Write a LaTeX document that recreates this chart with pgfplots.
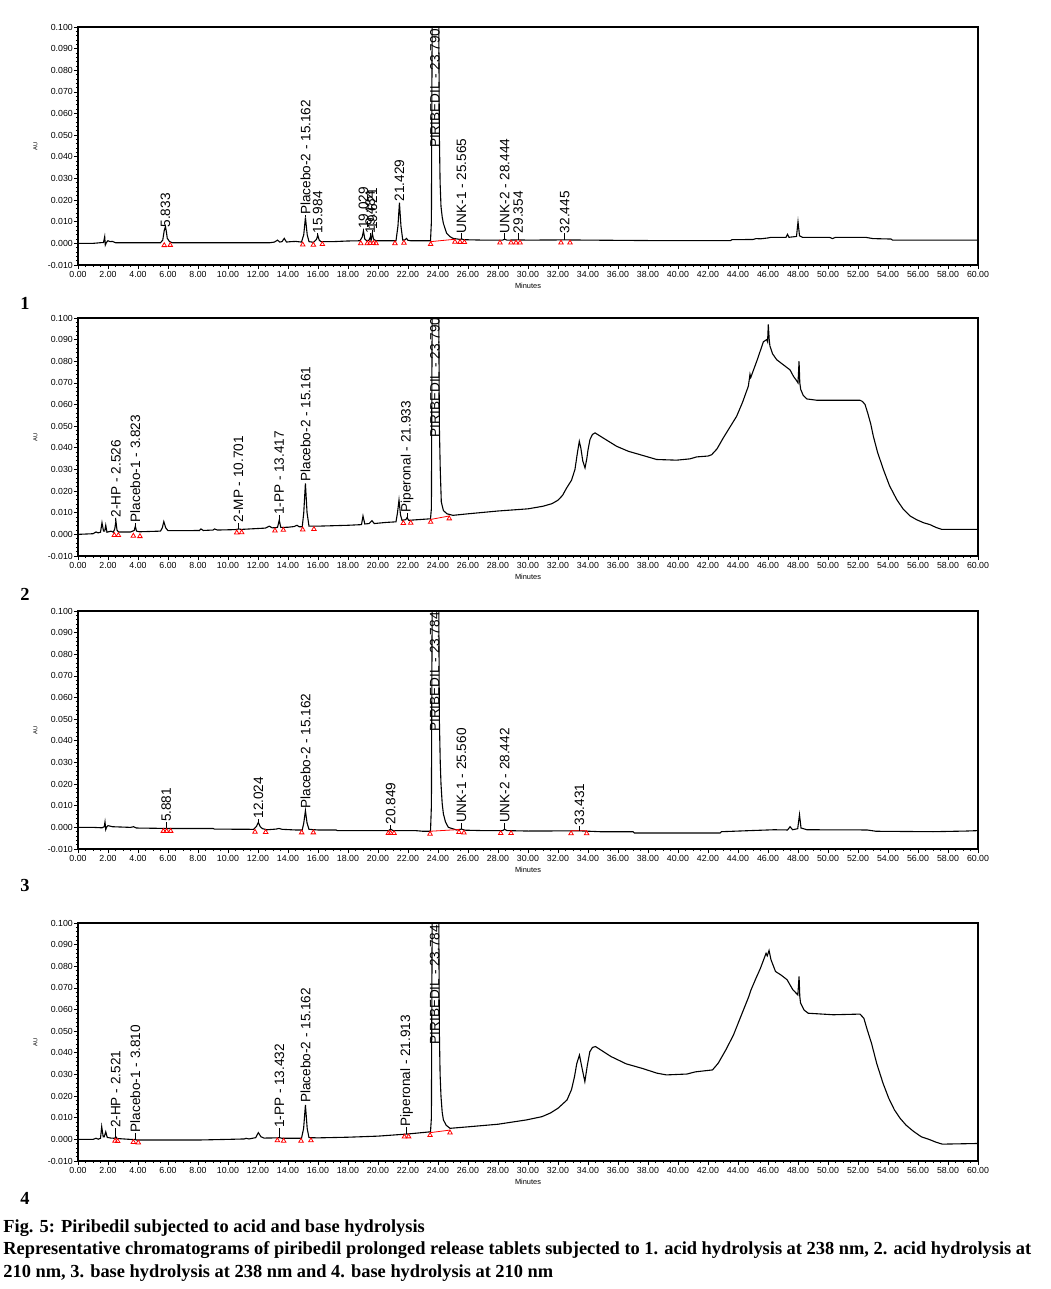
\documentclass[border=0pt]{standalone}
\usepackage{fontspec}
\setmainfont{Liberation Sans}
\newfontfamily\capfont{Liberation Serif}
\usepackage{pgfplots}
\pgfplotsset{compat=1.18}

\newcommand\lblfont{\fontsize{6.8}{7}\selectfont}
\newcommand\capsize{\capfont\bfseries\fontsize{9.2}{11.25}\selectfont}

\pgfplotsset{
  chrom/.style={
    scale only axis, width=450pt, height=119pt, anchor=north west,
    xmin=0, xmax=60, ymin=-0.01, ymax=0.1,
    xtick distance=2, ytick distance=0.01,
    minor x tick num=3, minor y tick num=4,
    scaled y ticks=false, scaled x ticks=false,
    tick align=outside, tick pos=left,
    major tick length=2pt, minor tick length=1.1pt,
    every tick/.style={black, line width=0.4pt},
    axis line style={line width=0.6pt},
    ticklabel style={font=\fontsize{4.4}{5}\selectfont},
    xticklabel style={inner sep=0.8pt},
    yticklabel style={inner sep=0.4pt},
    /pgf/number format/assume math mode=true,
    xticklabel={\pgfmathprintnumber[fixed,fixed zerofill,precision=2]{\tick}},
    yticklabel={\pgfmathprintnumber[fixed,fixed zerofill,precision=3]{\tick}},
    xlabel={Minutes}, ylabel={AU},
    xlabel style={at={(axis description cs:0.5,0)}, anchor=north, yshift=-5.6pt, font=\fontsize{3.7}{4}\selectfont},
    ylabel style={at={(axis description cs:-0.0373,0.5)}, anchor=south, font=\fontsize{2.9}{3}\selectfont},
    unbounded coords=jump,
  },
  trace/.style={black, line width=0.55pt, mark=none},
  base/.style={red, line width=0.4pt, mark=none},
  tri/.style={only marks, red, mark=triangle, mark size=1.3pt,
    mark options={yshift=-1.3pt, line width=0.4pt, solid}},
  lead/.style={black, line width=0.45pt, mark=none},
  lbl/.style={only marks, mark=none, nodes near coords, point meta=explicit symbolic,
    every node near coord/.append style={rotate=90, anchor=west, inner sep=0pt, font=\lblfont, black}},
}

\begin{document}
\begin{tikzpicture}
\useasboundingbox (0,0) rectangle (525pt,-644.5pt);

% ---------- 1: acid hydrolysis, 238 nm
\begin{axis}[chrom, at={(39pt,-13.5pt)}]
\addplot[trace] coordinates {
(0,0)(1.0,0.0)(1.5,0.0003)(1.7,0.0004)(1.78,0.0031)(1.82,-0.0008)(1.9,0.0005)(2.0,0.0012)(2.15,0.0008)(2.3,0.0009)(2.5,0.0003)
(4,0.0003)(5.5,0.0003)(5.65,0.0015)(5.75,0.006)(5.833,0.0077)(5.9,0.005)(5.95,0.0024)(6.1,0.0008)(6.3,0.0003)(8,0.0003)(10,0.0003)
(12.8,0.0003)(13.1,0.0006)(13.3,0.0015)(13.45,0.0006)(13.6,0.0008)(13.75,0.0023)(13.9,0.0006)(14.2,0.0008)(14.5,0.0009)(14.9,0.0006)
(15.05,0.004)(15.162,0.012)(15.28,0.004)(15.4,0.0008)(15.7,0.0005)(15.9,0.0018)(15.984,0.0038)(16.08,0.0015)(16.2,0.0008)(17,0.0008)
(18,0.0011)(18.8,0.0012)(18.95,0.003)(19.029,0.0057)(19.12,0.002)(19.25,0.0012)(19.4,0.0015)(19.48,0.0028)(19.54,0.0014)(19.62,0.0046)
(19.7,0.002)(19.85,0.0012)(21.2,0.0012)(21.33,0.008)(21.429,0.0188)(21.53,0.008)(21.65,0.0015)(21.8,0.0016)(21.9,0.0023)(22.0,0.0014)
(22.2,0.0012)(23.5,0.0012)(23.56,0.01)(23.62,0.12)(23.79,0.25)(24.04,0.12)(24.09,0.05)(24.14,0.028)(24.2,0.017)(24.28,0.0122)
(24.36,0.0092)(24.58,0.0046)(24.8,0.0031)(25.0,0.0023)(25.5,0.0018)(25.565,0.0021)(25.7,0.0017)(27,0.0015)(28.3,0.0015)(28.444,0.0019)
(28.6,0.0015)(29.354,0.0016)(30,0.0015)(32.445,0.0016)(34,0.0015)(36,0.0014)(38,0.0013)(40,0.0013)(43.5,0.0013)(43.6,0.0017)
(45,0.0018)(45.2,0.0022)(45.5,0.0021)(46,0.0025)(46.2,0.0028)(47.2,0.0028)(47.3,0.0042)(47.4,0.0028)(47.9,0.0032)(48.0,0.010)
(48.1,0.0035)(48.3,0.0028)(50.1,0.0028)(50.3,0.0022)(50.5,0.0028)(52.5,0.0028)(53,0.0022)(54.2,0.0020)(54.3,0.0015)(60,0.0015)
};
\addplot[base] coordinates {(23.51,0.0008)(25.13,0.0019)};
\addplot[tri] coordinates {
(5.75,0.0003)(6.15,0.0004)(14.98,0.0006)(15.69,0.0005)(16.29,0.0008)(18.85,0.0012)(19.29,0.0012)(19.47,0.0013)(19.69,0.0013)
(19.87,0.0012)(21.13,0.0012)(21.73,0.0014)(23.51,0.0008)(25.13,0.0019)(25.47,0.0018)(25.76,0.0017)(28.13,0.0015)(28.87,0.0015)
(29.2,0.0015)(29.47,0.0015)(32.2,0.0015)(32.8,0.0015)
};
\addplot[lead] coordinates {
(15.162,0.012)(15.162,0.013)(15.162,nan)(15.984,0.0038)(15.984,0.0046)(15.984,nan)(19.029,0.0057)(19.029,0.0065)(19.029,nan)
(19.484,0.0028)(19.484,0.0046)(19.484,nan)(19.621,0.0046)(19.621,0.006)(19.621,nan)(25.565,0.0018)(25.565,0.0046)(25.565,nan)
(28.444,0.0018)(28.444,0.0046)(28.444,nan)(29.354,0.0016)(29.354,0.0046)(29.354,nan)(32.445,0.0016)(32.445,0.0046)
};
\addplot[lbl] table[col sep=comma, meta=label] {
x,y,label
5.833,0.0072,5.833
15.162,0.013,Placebo-2 - 15.162
15.984,0.0046,15.984
19.029,0.0065,19.029
19.484,0.0046,19.484
19.621,0.0060,19.621
21.429,0.0193,21.429
23.790,0.0439,PIRIBEDIL - 23.790
25.565,0.0046,UNK-1 - 25.565
28.444,0.0046,UNK-2 - 28.444
29.354,0.0046,29.354
32.445,0.0046,32.445
};
\end{axis}

% ---------- 2: acid hydrolysis, 210 nm
\begin{axis}[chrom, at={(39pt,-159pt)}]
\addplot[trace] coordinates {
(0,0)(1.0,0.0003)(1.2,0.0011)(1.35,0.0007)(1.5,0.001)(1.6,0.0054)(1.7,0.0015)(1.78,0.0015)(1.85,0.0042)(1.93,0.001)(2.1,0.0013)
(2.2,0.0015)(2.35,0.001)(2.45,0.0025)(2.526,0.0062)(2.6,0.002)(2.7,0.0011)(3.5,0.0011)(3.75,0.0018)(3.823,0.0038)(3.9,0.0015)
(4.1,0.0012)(5.5,0.0015)(5.62,0.003)(5.72,0.0059)(5.85,0.003)(6.0,0.0017)(7,0.0017)(8.1,0.0018)(8.2,0.0025)(8.35,0.0018)(9.0,0.002)
(9.1,0.0025)(9.3,0.002)(10.5,0.0022)(10.7,0.0025)(10.9,0.0023)(12.5,0.0029)(12.75,0.0038)(12.95,0.003)(13.3,0.0032)(13.417,0.0066)
(13.52,0.0032)(14,0.0033)(14.4,0.0036)(14.6,0.0042)(14.75,0.0035)(14.95,0.0035)(15.05,0.01)(15.161,0.0236)(15.27,0.01)(15.4,0.0038)
(16,0.0038)(17,0.004)(18,0.0042)(18.9,0.0045)(19.0,0.0085)(19.12,0.0048)(19.4,0.005)(19.6,0.0063)(19.75,0.005)(20.5,0.0055)
(21.2,0.0058)(21.3,0.01)(21.4,0.0159)(21.5,0.009)(21.6,0.0065)(21.85,0.0068)(21.933,0.0077)(22.05,0.0065)(23.5,0.0072)(23.56,0.012)
(23.62,0.12)(23.79,0.25)(24.04,0.12)(24.09,0.05)(24.15,0.03)(24.22,0.015)(24.36,0.011)(24.6,0.0095)(25,0.0088)(26,0.0095)(28,0.0108)
(30,0.0118)(31,0.013)(31.6,0.0142)(32,0.0158)(32.3,0.0180)(32.58,0.0215)(32.9,0.025)(33.13,0.030)(33.3,0.038)(33.42,0.043)
(33.52,0.040)(33.65,0.034)(33.8,0.0307)(33.92,0.035)(34.0,0.039)(34.13,0.0438)(34.3,0.0462)(34.47,0.0469)(35.0,0.0446)(35.91,0.0407)
(36.69,0.0384)(37.69,0.0364)(38.58,0.0346)(39.91,0.0343)(40.8,0.0349)(41.24,0.0358)(42.0,0.0362)(42.24,0.0368)(42.6,0.0395)
(43.02,0.0446)(43.5,0.0500)(43.91,0.0546)(44.3,0.0610)(44.69,0.0685)(44.8,0.074)(44.85,0.0725)(45.3,0.081)(45.69,0.089)(45.91,0.090)
(45.97,0.089)(46.02,0.097)(46.08,0.090)(46.13,0.087)(46.3,0.0835)(46.58,0.0807)(47.0,0.0785)(47.47,0.076)(47.7,0.073)(47.91,0.071)
(48.0,0.070)(48.07,0.080)(48.12,0.070)(48.18,0.067)(48.35,0.0642)(48.58,0.0626)(49.24,0.062)(52.13,0.062)(52.3,0.0614)(52.47,0.060)
(52.65,0.056)(52.85,0.051)(53.02,0.0454)(53.3,0.038)(53.69,0.030)(54.1,0.0225)(54.58,0.0161)(55.0,0.0118)(55.47,0.0085)
(55.9,0.0068)(56.36,0.0054)(56.8,0.0045)(57.2,0.0032)(57.58,0.0023)(60,0.0023)
};
\addplot[base] coordinates {(23.51,0.0069)(24.75,0.0085)};
\addplot[tri] coordinates {
(2.42,0.0008)(2.69,0.0008)(3.69,0.0005)(4.13,0.0003)(10.58,0.0020)(10.91,0.0021)(13.13,0.0029)(13.69,0.0032)(14.98,0.0034)
(15.73,0.0036)(21.69,0.0064)(22.18,0.0065)(23.51,0.0069)(24.75,0.0085)
};
\addplot[lead] coordinates {
(2.526,0.0062)(2.526,0.0077)(2.526,nan)(3.823,0.0038)(3.823,0.0054)(3.823,nan)(10.701,0.0023)(10.701,0.0054)(10.701,nan)
(13.417,0.0066)(13.417,0.0088)(13.417,nan)(21.933,0.0077)(21.933,0.010)
};
\addplot[lbl] table[col sep=comma, meta=label] {
x,y,label
2.526,0.0077,2-HP - 2.526
3.823,0.0054,Placebo-1 - 3.823
10.701,0.0054,2-MP - 10.701
13.417,0.0088,1-PP - 13.417
15.161,0.0242,Placebo-2 - 15.161
21.933,0.0100,Piperonal - 21.933
23.790,0.0447,PIRIBEDIL - 23.790
};
\end{axis}

% ---------- 3: base hydrolysis, 238 nm
\begin{axis}[chrom, at={(39pt,-305.5pt)}]
\addplot[trace] coordinates {
(0,0)(1.0,0)(1.6,-0.0002)(1.75,0.0003)(1.8,0.0025)(1.85,-0.001)(1.92,0.0003)(2.0,0.0008)(2.3,0.0003)(3.5,0)(3.7,0.0003)(3.9,-0.0003)
(6,-0.0005)(9.0,-0.0005)(9.1,-0.0008)(11.7,-0.0009)(11.9,0.0005)(12.024,0.0023)(12.15,0.0003)(12.3,-0.0006)(12.6,-0.0011)
(13.2,-0.0008)(13.4,-0.0005)(13.6,-0.0009)(14.5,-0.0012)(14.95,-0.0012)(15.05,0.002)(15.162,0.0077)(15.27,0.002)(15.4,-0.0009)
(16,-0.0012)(17.2,-0.0012)(17.3,-0.0015)(20.7,-0.0015)(20.849,-0.0008)(21.0,-0.0015)(22.5,-0.0015)(23.0,-0.0018)(23.5,-0.0018)
(23.56,0.01)(23.62,0.12)(23.79,0.25)(24.04,0.12)(24.09,0.05)(24.15,0.03)(24.2,0.02)(24.28,0.011)(24.36,0.0062)(24.5,0.0025)(24.69,0)
(25.24,-0.0012)(25.56,-0.0008)(25.8,-0.0013)(27,-0.0015)(28.3,-0.0015)(28.442,-0.0009)(28.6,-0.0015)(30,-0.0017)(33.431,-0.0016)
(34.8,-0.002)(37.0,-0.002)(37.1,-0.0026)(42.8,-0.0026)(42.9,-0.002)(44.8,-0.0015)(46.4,-0.0011)(47.3,-0.0012)(47.47,0.0003)
(47.64,-0.0011)(47.98,-0.0006)(48.1,0.0059)(48.2,-0.0003)(48.6,-0.0011)(52.6,-0.0012)(53.2,-0.0018)(57.0,-0.002)(59.2,-0.0017)
(60,-0.0015)
};
\addplot[base] coordinates {(23.47,-0.0018)(25.4,-0.0010)(25.4,nan)(32.87,-0.0016)(33.91,-0.0016)};
\addplot[tri] coordinates {
(5.69,-0.0005)(5.91,-0.0005)(6.18,-0.0005)(11.8,-0.0009)(12.51,-0.001)(14.91,-0.0012)(15.69,-0.0012)(20.69,-0.0015)(20.84,-0.0015)
(21.07,-0.0015)(23.47,-0.0018)(25.4,-0.001)(25.73,-0.0013)(28.18,-0.0015)(28.87,-0.0015)(32.87,-0.0016)(33.91,-0.0016)
};
\addplot[lead] coordinates {
(5.881,-0.0005)(5.881,0.0023)(5.881,nan)(12.024,0.0023)(12.024,0.0039)(12.024,nan)(20.849,-0.0008)(20.849,0.0012)(20.849,nan)
(25.560,-0.0008)(25.560,0.0019)(25.560,nan)(28.442,-0.0009)(28.442,0.0019)(28.442,nan)(33.431,-0.0016)(33.431,0.0008)
};
\addplot[lbl] table[col sep=comma, meta=label] {
x,y,label
5.881,0.0023,5.881
12.024,0.0039,12.024
15.162,0.0085,Placebo-2 - 15.162
20.849,0.0012,20.849
23.784,0.0440,PIRIBEDIL - 23.784
25.560,0.0019,UNK-1 - 25.560
28.442,0.0019,UNK-2 - 28.442
33.431,0.0008,33.431
};
\end{axis}

% ---------- 4: base hydrolysis, 210 nm
\begin{axis}[chrom, at={(39pt,-461.5pt)}]
\addplot[trace] coordinates {
(0,0)(1.0,0)(1.2,0.0005)(1.35,0.0001)(1.5,0.0005)(1.58,0.0059)(1.68,0.0012)(1.75,0.0012)(1.85,0.0035)(1.95,0.0009)(2.2,0.0006)
(2.45,0.0005)(2.521,0.0012)(2.6,0.0004)(3.7,-0.0001)(3.81,0.0)(3.9,-0.0003)(6,-0.0003)(8,-0.0003)(10,0.0)(11.1,0.0002)(11.2,0.0005)
(11.4,0.0002)(11.85,0.0008)(12.02,0.0031)(12.2,0.0012)(12.4,0.0006)(13.3,0.0007)(13.432,0.0008)(13.6,0.0005)(14.9,0.0005)
(15.04,0.005)(15.162,0.0159)(15.28,0.005)(15.4,0.0008)(16,0.0007)(18,0.001)(20,0.0015)(22,0.0025)(23.5,0.0035)(23.56,0.01)
(23.62,0.12)(23.79,0.25)(24.04,0.12)(24.09,0.05)(24.14,0.03)(24.2,0.0198)(24.28,0.0125)(24.36,0.009)(24.55,0.0065)(24.8,0.0051)
(26,0.0058)(28,0.007)(29.9,0.009)(30.93,0.0105)(31.5,0.0122)(32.0,0.0144)(32.6,0.0182)(32.9,0.023)(33.1,0.029)(33.25,0.035)
(33.43,0.039)(33.6,0.033)(33.79,0.0267)(33.95,0.034)(34.12,0.0405)(34.3,0.0425)(34.5,0.0429)(35.53,0.0383)(36.55,0.0349)
(37.57,0.0329)(38.6,0.0306)(39.23,0.0298)(40.6,0.0302)(41.15,0.0312)(42.3,0.0321)(42.68,0.0352)(43.2,0.0415)(43.7,0.0483)
(44.2,0.0570)(44.72,0.066)(44.85,0.0688)(45.2,0.0745)(45.49,0.079)(45.87,0.086)(45.95,0.0848)(46.07,0.0873)(46.2,0.083)(46.5,0.0776)
(46.9,0.0758)(47.27,0.0738)(47.66,0.0691)(47.99,0.0668)(48.07,0.0753)(48.12,0.066)(48.17,0.063)(48.4,0.0598)(48.68,0.0583)
(50.35,0.0576)(52.13,0.0579)(52.39,0.056)(52.6,0.051)(52.9,0.0444)(53.25,0.035)(53.67,0.0259)(54.05,0.0190)(54.43,0.0136)
(54.8,0.0098)(55.2,0.0066)(55.7,0.0037)(56.22,0.0012)(56.73,0)(57.2,-0.0013)(57.62,-0.0022)(60,-0.0019)
};
\addplot[base] coordinates {(23.47,0.0031)(24.8,0.0043)};
\addplot[tri] coordinates {
(2.47,0.0005)(2.64,0.0004)(3.69,-0.0001)(4.02,-0.0003)(13.29,0.0007)(13.71,0.0005)(14.87,0.0005)(15.53,0.0007)(21.76,0.0024)
(22.04,0.0025)(23.47,0.0031)(24.8,0.0043)
};
\addplot[lead] coordinates {
(2.521,0.0012)(2.521,0.0051)(2.521,nan)(3.810,0.0)(3.810,0.0031)(3.810,nan)(13.432,0.0008)(13.432,0.0051)(13.432,nan)
(21.913,0.0025)(21.913,0.0059)
};
\addplot[lbl] table[col sep=comma, meta=label] {
x,y,label
2.521,0.0051,2-HP - 2.521
3.810,0.0031,Placebo-1 - 3.810
13.432,0.0051,1-PP - 13.432
15.162,0.0167,Placebo-2 - 15.162
21.913,0.0059,Piperonal - 21.913
23.784,0.0437,PIRIBEDIL - 23.784
};
\end{axis}

% panel numbers and caption
\node[font=\capsize] at (12.5pt,-151.5pt) {1};
\node[font=\capsize] at (12.5pt,-297pt) {2};
\node[font=\capsize] at (12.5pt,-442.5pt) {3};
\node[font=\capsize] at (12.5pt,-599pt) {4};
\node[anchor=north west, inner sep=0pt, align=left, font=\capsize] at (1.5pt,-609.5pt) {%
Fig. 5: Piribedil subjected to acid and base hydrolysis\\
Representative chromatograms of piribedil prolonged release tablets subjected to 1. acid hydrolysis at 238 nm, 2. acid hydrolysis at\\
210 nm, 3. base hydrolysis at 238 nm and 4. base hydrolysis at 210 nm};
\end{tikzpicture}
\end{document}
